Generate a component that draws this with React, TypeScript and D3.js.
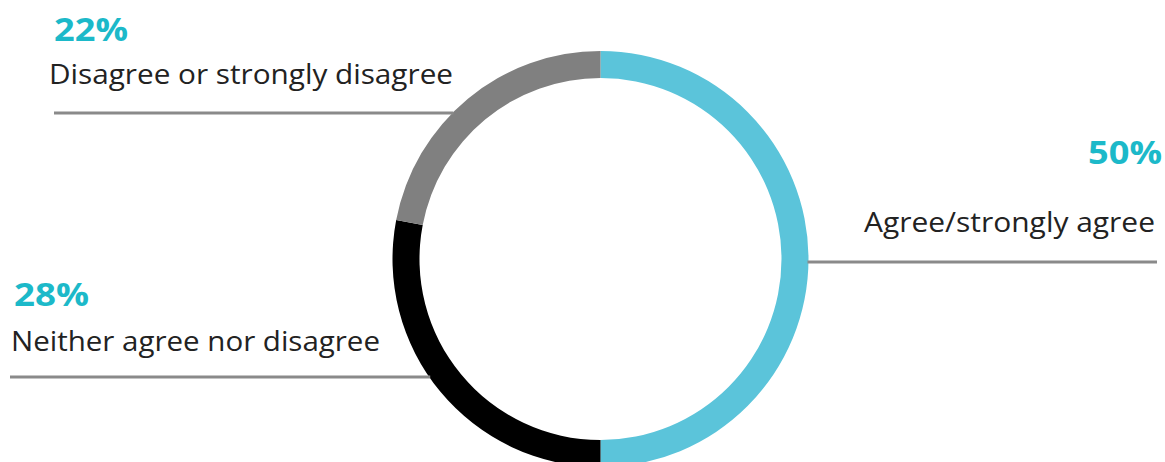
import React from "react";
import * as d3 from "d3";

const categories = ["Agree/strongly agree", "Neither agree nor disagree", "Disagree or strongly disagree"];
const values = [50, 28, 22];
const percentLabels = ["50%", "28%", "22%"];

const sliceColors = ["#5bc4da", "#000000", "#808080"];

// label layout (positions only, keyed by category index)
const labelLayout = [
  { side: "right", lineY: 262, lineEnd: 1157, pctX: 1162, pctY: 164, pctW: 74, txtX: 1155, txtY: 232, txtW: 291 },
  { side: "left", lineY: 377, lineEnd: 10, pctX: 14, pctY: 306, pctW: 75, txtX: 11, txtY: 351, txtW: 369 },
  { side: "left", lineY: 113, lineEnd: 54, pctX: 54, pctY: 41, pctW: 74, txtX: 49, txtY: 84, txtW: 404 },
];

const W = 1165;
const H = 462;
const cx = 600.5;
const cy = 259;
const outerR = 208;
const innerR = 181;

export default function App() {
  const pie = d3.pie<number>().sort(null).value((d) => d);
  const arcs = pie(values);
  const arc = d3.arc<d3.PieArcDatum<number>>().innerRadius(innerR).outerRadius(outerR);

  return (
    <svg
      width={W}
      height={H}
      style={{ position: "absolute", left: 0, top: 0, display: "block", background: "#fff" }}
      fontFamily="'Open Sans', sans-serif"
    >
      <g transform={`translate(${cx},${cy})`}>
        {arcs.map((a, i) => (
          <path key={i} d={arc(a) || ""} fill={sliceColors[i]} />
        ))}
      </g>
      {labelLayout.map((l, i) => {
        const dy = l.lineY - cy;
        const dx = Math.sqrt(Math.max(0, outerR * outerR - dy * dy));
        const ringX = l.side === "right" ? cx + dx - 1 : cx - dx + 1;
        const anchor = l.side === "right" ? "end" : "start";
        return (
          <g key={i}>
            <line x1={l.lineEnd} x2={ringX} y1={l.lineY} y2={l.lineY} stroke="#8a8a8a" strokeWidth={3} />
            <text
              x={l.pctX}
              y={l.pctY}
              textAnchor={anchor}
              fontSize={32}
              fontWeight={700}
              fill="#1cb9c9"
              textLength={l.pctW}
              lengthAdjust="spacingAndGlyphs"
            >
              {percentLabels[i]}
            </text>
            <text
              x={l.txtX}
              y={l.txtY}
              textAnchor={anchor}
              fontSize={27}
              fill="#222222"
              textLength={l.txtW}
              lengthAdjust="spacingAndGlyphs"
            >
              {categories[i]}
            </text>
          </g>
        );
      })}
    </svg>
  );
}
